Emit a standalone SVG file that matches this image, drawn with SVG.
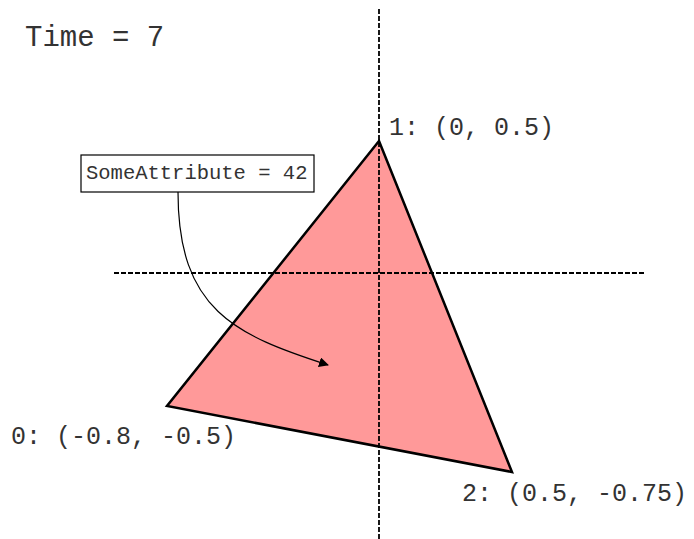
<svg xmlns="http://www.w3.org/2000/svg" width="694" height="539" viewBox="0 0 694 539">
<style>
.mono{font-family:"Liberation Mono","Courier New",monospace;fill:#333}
.axis{stroke:#000;stroke-width:1.8;stroke-dasharray:5,2;fill:none}
.conn{stroke:#000;stroke-width:1.2;fill:none}
</style>
<defs>
<marker id="arrow" viewBox="0 0 10 10" refX="9" refY="5" markerWidth="10" markerHeight="10" markerUnits="userSpaceOnUse" orient="auto">
<path d="M0,0 L10,5 L0,10 z" fill="#000"/>
</marker>
</defs>
<rect width="694" height="539" fill="#fff"/>
<text id="time" class="mono" x="25" y="46" font-size="29">Time = 7</text>
<g id="triangle">
<polygon points="379,141 167,406 512,472" fill="#ff9999" stroke="#000" stroke-width="2.5" stroke-linejoin="miter"/>
</g>
<g id="axes">
<line class="axis" x1="379" y1="9" x2="379" y2="539"/>
<line class="axis" x1="114" y1="273" x2="645" y2="273"/>
</g>
<g id="v1"><text class="mono" x="389" y="135" font-size="25">1: (0, 0.5)</text></g>
<g id="v0"><text class="mono" x="11" y="444" font-size="25">0: (-0.8, -0.5)</text></g>
<g id="v2"><text class="mono" x="462" y="501" font-size="25">2: (0.5, -0.75)</text></g>
<g id="attr">
<rect x="81" y="155" width="233" height="37" fill="#fff" stroke="#000" stroke-width="1.2"/>
<text class="mono" x="86" y="179" font-size="20.5">SomeAttribute = 42</text>
</g>
<g id="connectors">
<path class="conn" d="M178,192 C178,310 235,335 328,365" marker-end="url(#arrow)"/>
</g>
</svg>
